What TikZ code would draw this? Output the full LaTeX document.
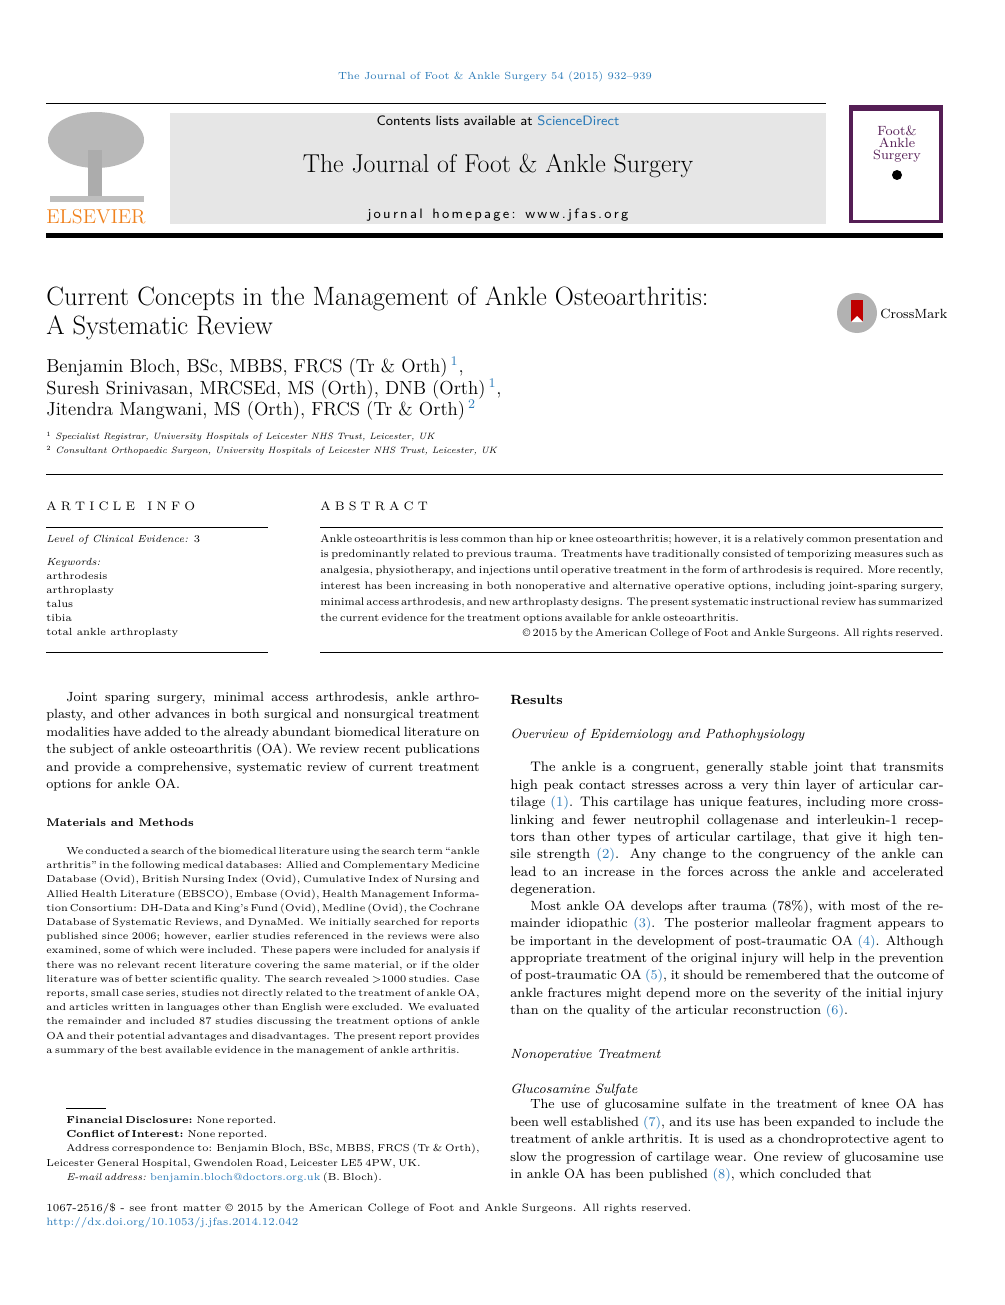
\documentclass[tikz,border=0pt]{standalone}
\usepackage{fontspec}
\definecolor{lnk}{RGB}{42,122,184}
\definecolor{els}{RGB}{240,130,30}
\definecolor{hdr}{RGB}{230,230,230}
\definecolor{cov}{RGB}{85,30,85}
\newcommand{\fs}[2]{\fontsize{#1}{#2}\selectfont}
\begin{document}
\begin{tikzpicture}[x=0.6pt,y=-0.6pt,
  body/.style={anchor=north west,inner sep=0pt,align=justify,text width=260pt,font=\fs{8.0}{10.44}},
  meth/.style={anchor=north west,inner sep=0pt,align=justify,text width=260pt,font=\fs{6.1}{8.52}},
  lft/.style={anchor=west,inner sep=0pt}]
\useasboundingbox (0,0) rectangle (1005,1305);
\fill[white] (0,0) rectangle (1005,1305);
\node[inner sep=0pt,text=lnk,font=\fs{6.2}{8}] (cite) at (495,77) {The Journal of Foot \& Ankle Surgery 54 (2015) 932--939};
\draw[line width=0.6pt] (46,104) -- (826,104);
\fill[hdr] (170,113) rectangle (826,224);
\node[inner sep=0pt,font=\sffamily\fs{8.2}{10}] (cl) at (498,121) {Contents lists available at \textcolor{lnk}{ScienceDirect}};
\node[inner sep=0pt,font=\fs{15.5}{18}] (jt) at (498,166) {The Journal of Foot \& Ankle Surgery};
\node[inner sep=0pt,font=\sffamily\fs{8.2}{10}] (hp) at (498,215) {j\,o\,u\,r\,n\,a\,l\ \ h\,o\,m\,e\,p\,a\,g\,e\,:\ \ w\,w\,w\,.\,j\,f\,a\,s\,.\,o\,r\,g};
% Elsevier logo
\fill[gray!55] (96,140) ellipse (48 and 28);
\fill[gray!65] (88,150) rectangle (102,200);
\fill[gray!50] (50,196) rectangle (144,202);
\node[inner sep=0pt,text=els,font=\fs{12}{14}] (els) at (96,217) {ELSEVIER};
% cover
\fill[cov] (849,105) rectangle (943,223);
\fill[white] (853,111) rectangle (939,220);
\node[inner sep=0pt,align=center,font=\fs{8}{7},text=cov] (cv) at (897,144) {Foot\&\\Ankle\\Surgery};
\fill[black] (897,175) circle (5);
\draw[line width=3pt] (46,236) -- (943,236);
% title
\node[anchor=west,inner sep=0pt,font=\fs{15.9}{17.5}] (t1) at (46,299) {Current Concepts in the Management of Ankle Osteoarthritis:};
\node[anchor=west,inner sep=0pt,font=\fs{15.9}{17.5}] (t2) at (46,328) {A Systematic Review};
\fill[gray!60] (857,313) circle (20);
\fill[red!75!black] (851,300) rectangle (863,322);
\fill[white] (857,316) -- (851,322) -- (863,322) -- cycle;
\node[anchor=west,inner sep=0pt,font=\fs{8}{10}] (cm) at (880,314) {CrossMark};
% authors
\node[lft,font=\fs{11.3}{13}] (a1) at (46,367) {Benjamin Bloch, BSc, MBBS, FRCS (Tr \& Orth)\,\textsuperscript{\textcolor{lnk}{1}},};
\node[lft,font=\fs{11.3}{13}] (a2) at (46,389) {Suresh Srinivasan, MRCSEd, MS (Orth), DNB (Orth)\,\textsuperscript{\textcolor{lnk}{1}},};
\node[lft,font=\fs{11.3}{13}] (a3) at (46,410) {Jitendra Mangwani, MS (Orth), FRCS (Tr \& Orth)\,\textsuperscript{\textcolor{lnk}{2}}};
\node[lft,font=\itshape\fs{5.5}{7}] (f1) at (46,437) {\textsuperscript{\upshape 1} Specialist Registrar, University Hospitals of Leicester NHS Trust, Leicester, UK};
\node[lft,font=\itshape\fs{5.5}{7}] (f2) at (46,451) {\textsuperscript{\upshape 2} Consultant Orthopaedic Surgeon, University Hospitals of Leicester NHS Trust, Leicester, UK};
\draw[line width=0.5pt] (46,474) -- (943,474);
\node[lft,font=\fs{7.4}{9}] (ai) at (46,506) {A\,\,R\,\,T\,\,I\,\,C\,\,L\,\,E\quad I\,\,N\,\,F\,\,O};
\node[lft,font=\fs{7.4}{9}] (ab) at (320,506) {A\,\,B\,\,S\,\,T\,\,R\,\,A\,\,C\,\,T};
\draw[line width=0.5pt] (46,527) -- (268,527) (320,527) -- (943,527);
\draw[line width=0.5pt] (46,652) -- (268,652) (320,652) -- (943,652);
\node[lft,font=\fs{6.2}{8}] (lv) at (46,540) {\textit{Level of Clinical Evidence:} 3};
\node[anchor=north west,inner sep=0pt,align=left,font=\fs{6.2}{8.45}] (kw) at (46,558) {\textit{Keywords:}\\arthrodesis\\arthroplasty\\talus\\tibia\\total ankle arthroplasty};
\node[anchor=north west,inner sep=0pt,align=justify,text width=373.8pt,font=\fs{6.55}{9.48}] (abs) at (320,534) {\spaceskip=0.22em plus 0.3em minus 0.1em Ankle osteoarthritis is less common than hip or knee osteoarthritis; however, it is a relatively common presentation and is predominantly related to previous trauma. Treatments have traditionally consisted of temporizing measures such as analgesia, physiotherapy, and injections until operative treatment in the form of arthrodesis is required. More recently, interest has been increasing in both nonoperative and alternative operative options, including joint-sparing surgery, minimal access arthrodesis, and new arthroplasty designs. The present systematic instructional review has summarized the current evidence for the treatment options available for ankle osteoarthritis.\par\hfill \copyright\ 2015 by the American College of Foot and Ankle Surgeons. All rights reserved.};
% left column
\node[body] (intro) at (46,692) {\parindent=12pt\indent Joint sparing surgery, minimal access arthrodesis, ankle arthro\-plasty, and other advances in both surgical and nonsurgical treatment modalities have added to the already abundant biomedical literature on the subject of ankle osteoarthritis (OA). We review recent publi\-cations and provide a comprehensive, systematic review of current treatment options for ankle OA.};
\node[lft,font=\bfseries\fs{6.7}{9}] (mm) at (46,823) {Materials and Methods};
\node[meth] (meth) at (46,847) {\spaceskip=0.25em plus 0.3em minus 0.1em\parindent=12pt\indent We conducted a search of the biomedical literature using the search term ``ankle arthritis'' in the following medical databases: Allied and Complementary Medicine Database (Ovid), British Nursing Index (Ovid), Cumulative Index of Nursing and Allied Health Literature (EBSCO), Embase (Ovid), Health Management Information Consortium: DH-Data and King's Fund (Ovid), Medline (Ovid), the Cochrane Data\-base of Systematic Reviews, and DynaMed. We initially searched for reports pub\-lished since 2006; however, earlier studies referenced in the reviews were also examined, some of which were included. These papers were included for analysis if there was no relevant recent literature covering the same material, or if the older literature was of better scientific quality. The search revealed $>$1000 studies. Case reports, small case series, studies not directly related to the treatment of ankle OA, and articles written in languages other than English were excluded. We evaluated the remainder and included 87 studies discussing the treatment options of ankle OA and their potential advantages and disadvantages. The present report provides a summary of the best available evidence in the management of ankle arthritis.};
\draw[line width=0.4pt] (66,1108) -- (106,1108);
\node[meth] (fn) at (46,1116) {\spaceskip=0.25em plus 0.3em minus 0.1em\parindent=12pt\indent\textbf{Financial Disclosure:} None reported.\par\indent\textbf{Conflict of Interest:} None reported.\par\indent Address correspondence to: Benjamin Bloch, BSc, MBBS, FRCS (Tr \& Orth), Leicester General Hospital, Gwendolen Road, Leicester LE5 4PW, UK.\par\indent\textit{E-mail address:} \textcolor{lnk}{benjamin.bloch@doctors.org.uk} (B. Bloch).};
\node[lft,font=\fs{6.4}{8.5}] (b1) at (46,1209) {1067-2516/\$ - see front matter \copyright\ 2015 by the American College of Foot and Ankle Surgeons. All rights reserved.};
\node[lft,font=\fs{6.4}{8.5},text=lnk] (b2) at (46,1223) {http://dx.doi.org/10.1053/j.jfas.2014.12.042};
% right column
\node[lft,font=\bfseries\fs{8.0}{10}] (res) at (510,700) {Results};
\node[lft,font=\itshape\fs{8.0}{10}] (ov) at (510,735) {Overview of Epidemiology and Pathophysiology};
\node[body,font=\fs{8.3}{10.44}] (p1) at (510,762) {\parindent=12pt\indent The ankle is a congruent, generally stable joint that transmits high peak contact stresses across a very thin layer of articular cartilage \textcolor{lnk}{(1)}. This cartilage has unique features, including more cross-linking and fewer neutrophil collagenase and interleukin-1 receptors than other types of articular cartilage, that give it high tensile strength \textcolor{lnk}{(2)}. Any change to the congruency of the ankle can lead to an increase in the forces across the ankle and accelerated degeneration.};
\node[body] (p2) at (510,900) {\parindent=12pt\indent Most ankle OA develops after trauma (78\%), with most of the remainder idiopathic \textcolor{lnk}{(3)}. The posterior malleolar fragment appears to be important in the development of post-traumatic OA \textcolor{lnk}{(4)}. Although appropriate treatment of the original injury will help in the prevention of post-traumatic OA \textcolor{lnk}{(5)}, it should be remembered that the outcome of ankle fractures might depend more on the severity of the initial injury than on the quality of the articular reconstruction \textcolor{lnk}{(6)}.};
\node[lft,font=\itshape\fs{8.0}{10}] (no) at (510,1055) {Nonoperative Treatment};
\node[lft,font=\itshape\fs{8.0}{10}] (gs) at (510,1090) {Glucosamine Sulfate};
\node[body] (p3) at (510,1099) {\parindent=12pt\indent The use of glucosamine sulfate in the treatment of knee OA has been well established \textcolor{lnk}{(7)}, and its use has been expanded to include the treatment of ankle arthritis. It is used as a chondroprotective agent to slow the progression of cartilage wear. One review of glucosamine use in ankle OA has been published \textcolor{lnk}{(8)}, which concluded that};
\end{tikzpicture}
\end{document}
